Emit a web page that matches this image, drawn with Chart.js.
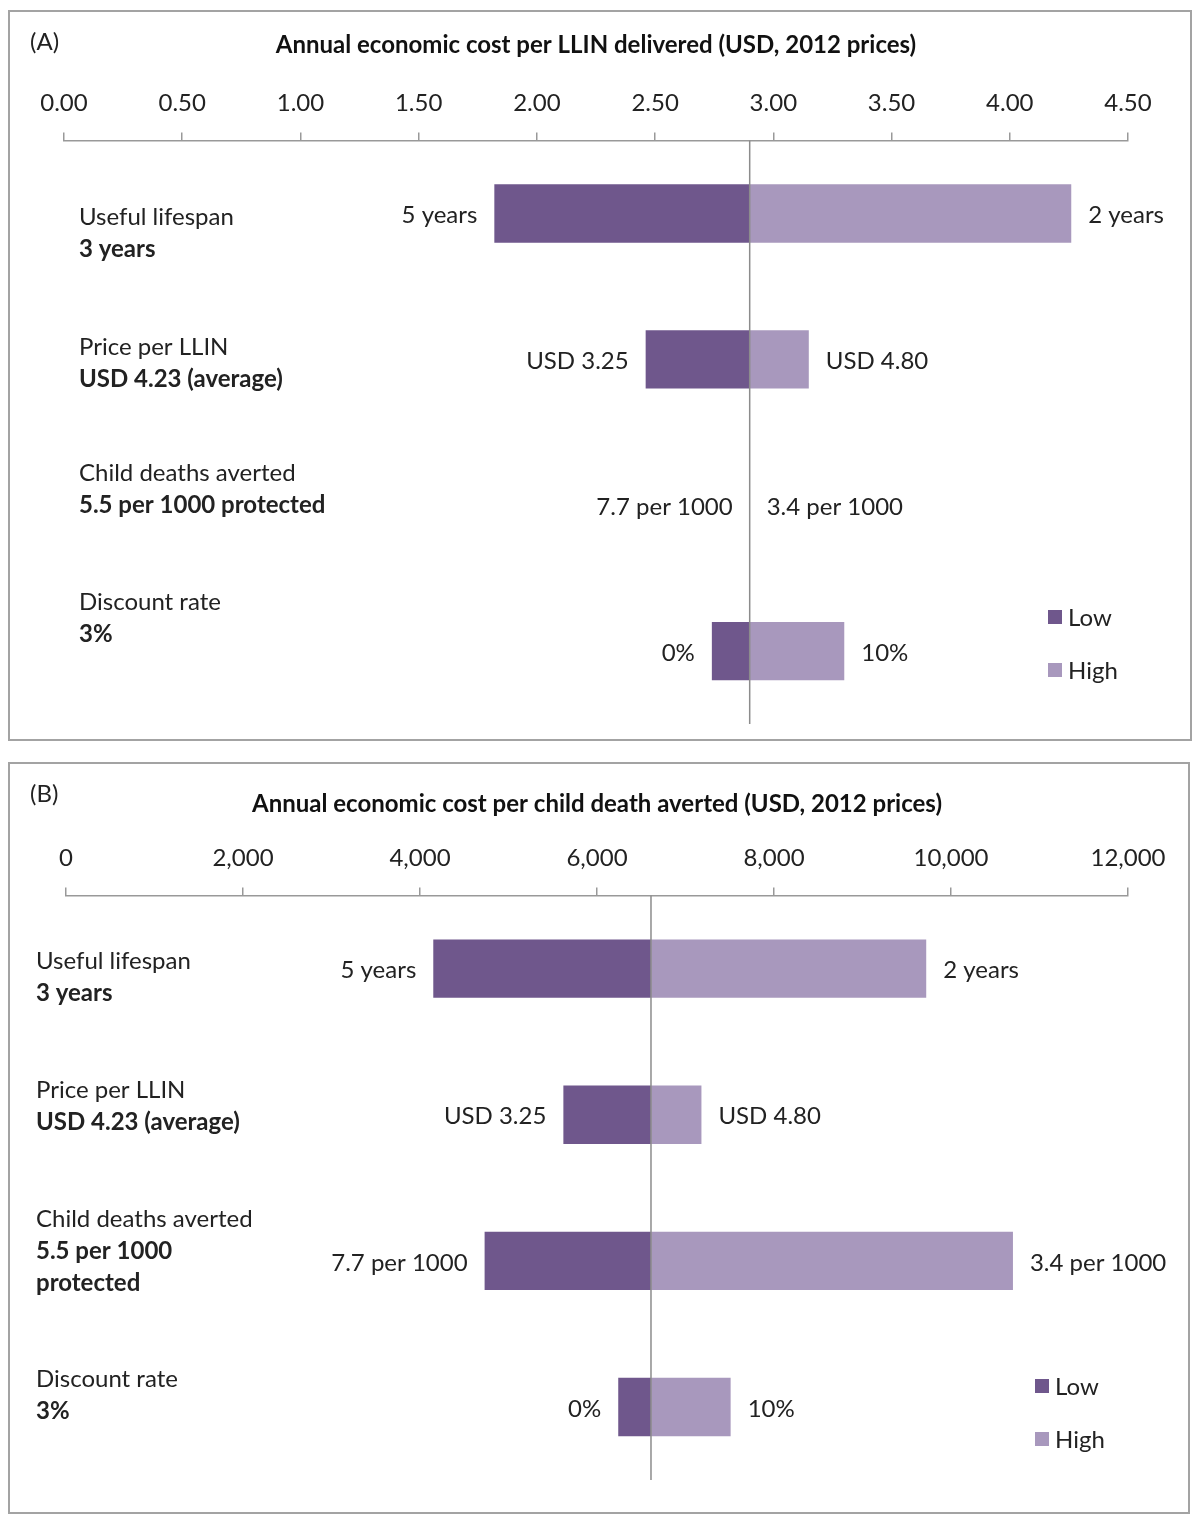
<!DOCTYPE html>
<html>
<head>
<meta charset="utf-8">
<script src="https://cdn.jsdelivr.net/npm/chart.js@4/dist/chart.umd.min.js"></script>
<style>
  body { margin: 0; background: #fff; font-family: Lato, sans-serif; }
  .panel { position: absolute; left: 8px; border: 2px solid #a3a3a3; background: #fff; }
  .tag { position: absolute; left: 20px; top: 14px; font-size: 24px; color: #222; }
  canvas { display: block; }
</style>
</head>
<body>
<div class="panel" style="top:10px; width:1180px; height:727px;">
  <canvas id="chartA" width="1180" height="727"></canvas>
  <div class="tag">(A)</div>
</div>
<div class="panel" style="top:762px; width:1178px; height:748px;">
  <canvas id="chartB" width="1178" height="748"></canvas>
  <div class="tag">(B)</div>
</div>
<script>
// tornado charts — one-way sensitivity of LLIN costs
const parameters = ['Useful lifespan', 'Price per LLIN', 'Child deaths averted', 'Discount rate'];
const baseCaseA = [['3 years'], ['USD 4.23 (average)'], ['5.5 per 1000 protected'], ['3%']];
const baseCaseB = [['3 years'], ['USD 4.23 (average)'], ['5.5 per 1000', 'protected'], ['3%']];
const lowLabels = ['5 years', 'USD 3.25', '7.7 per 1000', '0%'];
const highLabels = ['2 years', 'USD 4.80', '3.4 per 1000', '10%'];

// (A) cost per LLIN delivered
const perNetBase = 2.90;
const perNetLow = [1.82, 2.46, 2.90, 2.74];
const perNetHigh = [4.26, 3.15, 2.90, 3.30];

// (B) cost per child death averted
const perDeathBase = 6610;
const perDeathLow = [4150, 5620, 4730, 6240];
const perDeathHigh = [9720, 7180, 10700, 7510];

const LOW_COLOR = '#6f578c';
const HIGH_COLOR = '#a898bd';
const FONT = 'Lato, sans-serif';
const TEXT = '#222';

const tornadoDecor = {
  id: 'tornadoDecor',
  afterDatasetsDraw(chart, args, opts) {
    const { ctx, chartArea, scales } = chart;
    const x = scales.x, y = scales.y;
    const bx = x.getPixelForValue(opts.base);
    ctx.save();
    // base case line
    ctx.strokeStyle = '#8c8c8c';
    ctx.lineWidth = 1.5;
    ctx.beginPath();
    ctx.moveTo(bx, chartArea.top);
    ctx.lineTo(bx, chartArea.bottom);
    ctx.stroke();

    ctx.font = '24px ' + FONT;
    ctx.fillStyle = TEXT;
    ctx.textBaseline = 'middle';
    const lowMeta = chart.getDatasetMeta(0), highMeta = chart.getDatasetMeta(1);
    parameters.forEach((p, i) => {
      const cy = y.getPixelForValue(i);
      const lowEl = lowMeta.data[i], highEl = highMeta.data[i];
      ctx.textAlign = 'right';
      ctx.fillText(lowLabels[i], Math.min(lowEl.x, lowEl.base) - 17, cy + 2);
      ctx.textAlign = 'left';
      ctx.fillText(highLabels[i], Math.max(highEl.x, highEl.base) + 17, cy + 2);

      // row labels: parameter name, then bold base case
      let ly = cy + opts.nudge[i];
      ctx.font = '24px ' + FONT;
      ctx.fillText(p, opts.labelX, ly);
      ctx.font = 'bold 24px ' + FONT;
      opts.baseLines[i].forEach(t => {
        ly += 32;
        ctx.fillText(t, opts.labelX, ly);
      });
      ctx.font = '24px ' + FONT;
    });

    // legend
    const lx = chartArea.right - opts.legendRight;
    let ly = chartArea.bottom - opts.legendBottom;
    chart.data.datasets.forEach(ds => {
      ctx.fillStyle = ds.backgroundColor;
      ctx.fillRect(lx, ly - 7, 14, 14);
      ctx.fillStyle = TEXT;
      ctx.textAlign = 'left';
      ctx.fillText(ds.label, lx + 20, ly + 1);
      ly += 53;
    });
    ctx.restore();
  }
};

function tornado(id, cfg) {
  return new Chart(document.getElementById(id), {
    type: 'bar',
    data: {
      labels: parameters,
      datasets: [
        { label: 'Low', data: cfg.low.map(v => [v, cfg.base]), backgroundColor: LOW_COLOR },
        { label: 'High', data: cfg.high.map(v => [cfg.base, v]), backgroundColor: HIGH_COLOR },
      ],
    },
    options: {
      indexAxis: 'y',
      responsive: false,
      animation: false,
      devicePixelRatio: 1,
      grouped: false,
      barPercentage: 0.4,
      categoryPercentage: 1.0,
      borderWidth: 0,
      layout: { padding: cfg.padding },
      plugins: {
        legend: { display: false },
        tooltip: { enabled: false },
        title: {
          display: true,
          text: cfg.title,
          color: '#111',
          font: { family: FONT, size: 24, weight: 'bold' },
          padding: cfg.titlePadding,
        },
        tornadoDecor: cfg.decor,
      },
      scales: {
        x: {
          position: 'top',
          min: 0,
          max: cfg.max,
          ticks: {
            stepSize: cfg.step,
            padding: 15,
            color: TEXT,
            font: { family: FONT, size: 24 },
            callback: cfg.format,
          },
          grid: { drawOnChartArea: false, drawTicks: true, tickLength: 8, color: '#999', lineWidth: 1.5 },
          border: { display: true, color: '#999', width: 1.5 },
        },
        y: { display: false },
      },
    },
    plugins: [tornadoDecor],
  });
}

tornado('chartA', {
  base: perNetBase, low: perNetLow, high: perNetHigh,
  max: 4.5, step: 0.5, format: v => v.toFixed(2),
  title: 'Annual economic cost per LLIN delivered (USD, 2012 prices)',
  titlePadding: { top: 19, bottom: 14 },
  padding: { left: 54, right: 62, top: 0, bottom: 15 },
  decor: { base: perNetBase, labelX: 69, nudge: [4, -12, -32, -49], baseLines: baseCaseA, legendRight: 80, legendBottom: 107 },
});

tornado('chartB', {
  base: perDeathBase, low: perDeathLow, high: perDeathHigh,
  max: 12000, step: 2000, format: v => v.toLocaleString('en-US'),
  title: 'Annual economic cost per child death averted (USD, 2012 prices)',
  titlePadding: { top: 26, bottom: 10 },
  padding: { left: 56, right: 60, top: 0, bottom: 32 },
  decor: { base: perDeathBase, labelX: 26, nudge: [-7, -24, -42, -28], baseLines: baseCaseB, legendRight: 93, legendBottom: 94 },
});
</script>
</body>
</html>
